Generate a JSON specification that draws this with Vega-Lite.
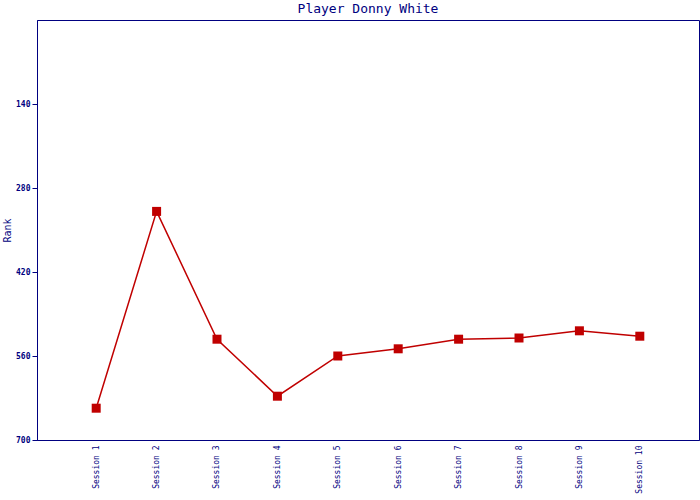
{
  "$schema": "https://vega.github.io/schema/vega-lite/v6.json",
  "autosize": {"type": "none"},
  "width": 662,
  "height": 420,
  "padding": {"left": 37, "top": 20, "right": 1, "bottom": 60},
  "background": "white",
  "config": {
    "view": {"stroke": "#000080", "strokeWidth": 1},
    "font": "DejaVu Sans Mono"
  },
  "title": {
    "text": "Player Donny White",
    "font": "DejaVu Sans Mono",
    "fontSize": 13,
    "fontWeight": "normal",
    "color": "#000080",
    "offset": 4,
    "anchor": "middle"
  },
  "data": {
    "values": [
      {"session": "Session 1", "rank": 647},
      {"session": "Session 2", "rank": 319},
      {"session": "Session 3", "rank": 532},
      {"session": "Session 4", "rank": 627},
      {"session": "Session 5", "rank": 560},
      {"session": "Session 6", "rank": 548},
      {"session": "Session 7", "rank": 532},
      {"session": "Session 8", "rank": 530},
      {"session": "Session 9", "rank": 518},
      {"session": "Session 10", "rank": 527}
    ]
  },
  "encoding": {
    "x": {
      "field": "session",
      "type": "ordinal",
      "sort": null,
      "scale": {"type": "point", "padding": 0.98},
      "axis": {
        "title": null,
        "labelAngle": -90,
        "labelFont": "DejaVu Sans Mono",
        "labelFontSize": 8,
        "labelColor": "#000080",
        "ticks": false,
        "labelPadding": 5,
        "domainColor": "#000080",
        "grid": false
      }
    },
    "y": {
      "field": "rank",
      "type": "quantitative",
      "scale": {"domain": [0, 700], "reverse": true, "nice": false},
      "axis": {
        "title": "Rank",
        "titleFont": "DejaVu Sans Mono",
        "titleFontSize": 10,
        "titleFontWeight": "normal",
        "titleColor": "#000080",
        "titlePadding": 3,
        "values": [140, 280, 420, 560, 700],
        "labelFont": "DejaVu Sans Mono",
        "labelFontSize": 8,
        "labelFontWeight": "bold",
        "labelColor": "#000080",
        "tickColor": "#000080",
        "tickSize": 5,
        "labelPadding": 2,
        "domainColor": "#000080",
        "grid": false
      }
    }
  },
  "layer": [
    {"mark": {"type": "line", "color": "#c00000", "strokeWidth": 1.5}},
    {"mark": {"type": "point", "shape": "square", "filled": true, "opacity": 1, "color": "#c00000", "size": 81}}
  ]
}
